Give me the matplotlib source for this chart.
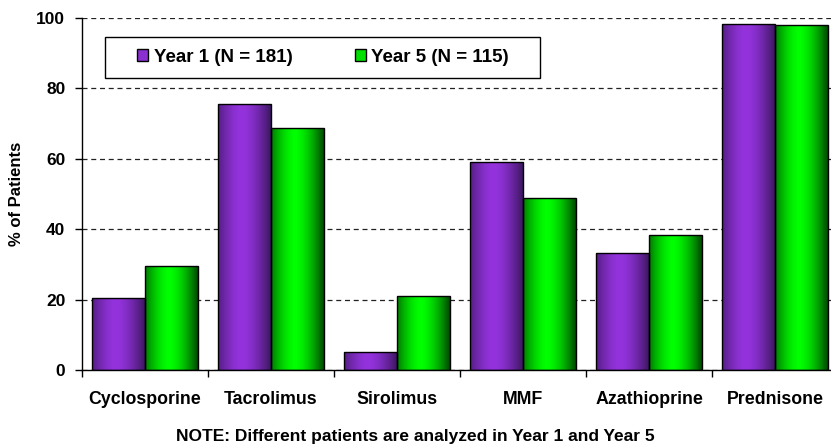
import numpy as np
import matplotlib.pyplot as plt
from matplotlib.patches import Patch, Rectangle
from matplotlib.colors import to_rgb

plt.rcParams['font.family'] = ['Liberation Sans', 'DejaVu Sans']
plt.rcParams['font.weight'] = 'bold'

drugs = ['Cyclosporine', 'Tacrolimus', 'Sirolimus', 'MMF', 'Azathioprine', 'Prednisone']
year1 = [20.5, 75.6, 5.1, 59.0, 33.2, 98.3]
year5 = [29.5, 68.8, 21.0, 48.9, 38.4, 98.0]
series_labels = ['Year 1 (N = 181)', 'Year 5 (N = 115)']

purple_dark, purple_light = '#3e1763', '#9433de'
green_dark, green_light = '#004a00', '#00ff00'


def shade(ax, bar, dark, light):
    # horizontal cylinder-like shading clipped to the bar
    x0, y0 = bar.get_x(), bar.get_y()
    w, h = bar.get_width(), bar.get_height()
    t = np.linspace(0, 1, 64)
    k = np.clip(1 - (np.abs(t - 0.45) / 0.55) ** 1.6, 0, 1)
    d, l = np.array(to_rgb(dark)), np.array(to_rgb(light))
    img = d[None, :] + (l - d)[None, :] * k[:, None]
    im = ax.imshow(img[None, :, :], extent=(x0, x0 + w, y0, y0 + h),
                   aspect='auto', interpolation='bilinear', zorder=2)
    im.set_clip_path(bar)


fig = plt.figure(figsize=(8.31, 4.47), dpi=100)
ax = fig.add_axes([82 / 831, (447 - 370) / 447, 756 / 831, 352 / 447])

x = np.arange(len(drugs))
width = 0.42
bars1 = ax.bar(x - width / 2, year1, width, facecolor='none', edgecolor='black',
               linewidth=1.0, zorder=3)
bars5 = ax.bar(x + width / 2, year5, width, facecolor='none', edgecolor='black',
               linewidth=1.0, zorder=3)
for b in bars1:
    shade(ax, b, purple_dark, purple_light)
for b in bars5:
    shade(ax, b, green_dark, green_light)

ax.set_xlim(-0.5, len(drugs) - 0.5)
ax.set_ylim(0, 100)
ax.set_yticks(np.arange(0, 101, 20))
ax.yaxis.grid(True, linestyle=(0, (4, 3)), color='#222222', linewidth=0.9)
ax.set_axisbelow(True)
for s in ['top', 'right']:
    ax.spines[s].set_visible(False)
ax.spines['left'].set_linewidth(1.0)
ax.spines['bottom'].set_linewidth(1.0)

# boundary ticks between categories, labels at centres
ax.set_xticks(np.arange(-0.5, len(drugs), 1.0))
ax.set_xticklabels([])
ax.tick_params(axis='x', direction='out', length=5, width=1)
ax.set_xticks(x, minor=True)
ax.set_xticklabels(drugs, minor=True, fontsize=12.8, fontweight='bold')
ax.tick_params(axis='x', which='minor', length=0, pad=15)
ax.tick_params(axis='y', direction='out', length=5, width=1, labelsize=12.5, pad=7)
for lbl in ax.get_yticklabels():
    lbl.set_fontweight('bold')

ax.set_ylabel('% of Patients', fontsize=12, fontweight='bold')
ax.yaxis.set_label_coords(-0.077, 0.5)

# legend frame drawn separately so the padding can be set freely
ax.add_patch(Rectangle((0.0304, 0.830), 0.575, 0.1165, transform=ax.transAxes,
                       facecolor='white', edgecolor='black', linewidth=1.0,
                       zorder=4))
handles = [Patch(facecolor='#8a2fd0', edgecolor='black', linewidth=1.0),
           Patch(facecolor='#00e000', edgecolor='black', linewidth=1.0)]
leg = ax.legend(handles, series_labels, ncol=2, loc='center left',
                bbox_to_anchor=(0.0728, 0.888), frameon=False, borderpad=0,
                borderaxespad=0, prop={'size': 13.5, 'weight': 'bold'},
                handlelength=0.6, handleheight=0.6, handletextpad=0.3,
                columnspacing=3.3)
leg.set_zorder(5)

fig.text(0.5, 1 - 437 / 447,
         'NOTE: Different patients are analyzed in Year 1 and Year 5',
         ha='center', va='center', fontsize=12.5, fontweight='bold')

fig.savefig('out.png', dpi=100)
